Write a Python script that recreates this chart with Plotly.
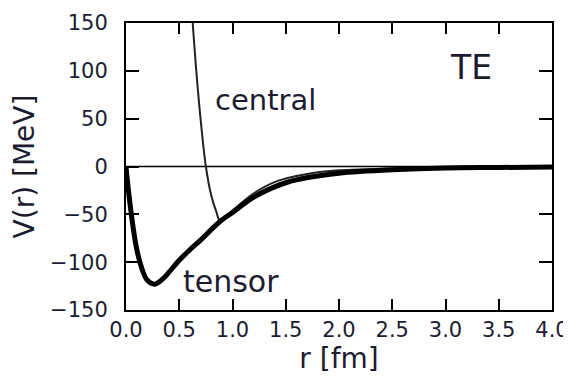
import plotly.graph_objects as go

# Tensor potential (thick curve)
r_tensor = [0.0, 0.02, 0.05, 0.1, 0.15, 0.2, 0.27, 0.35, 0.4, 0.5, 0.6, 0.7, 0.8, 0.9,
            1.0, 1.2, 1.4, 1.5, 1.6, 1.8, 2.0, 2.5, 3.0, 3.5, 4.0]
v_tensor = [0, -22, -50, -86, -107, -119, -123, -117, -111, -98, -87, -77, -66, -56,
            -48, -32, -21, -17, -14, -10, -7, -3.5, -1.5, -1, -0.5]

# Central potential (thin curve)
r_central = [0.62, 0.66, 0.70, 0.75, 0.80, 0.85, 0.88, 0.95, 1.0, 1.2, 1.4, 1.6, 1.8,
             2.0, 2.5, 3.0, 3.5, 4.0]
v_central = [160, 100, 50, 0, -30, -48, -56, -51, -46, -28, -16, -10, -6,
             -4, -2, -1, -0.5, 0]

x_ticks = [0.0, 0.5, 1.0, 1.5, 2.0, 2.5, 3.0, 3.5, 4.0]
x_ticklabels = ["0.0", "0.5", "1.0", "1.5", "2.0", "2.5", "3.0", "3.5", "4.0"]
y_ticks = [-150, -100, -50, 0, 50, 100, 150]

fig = go.Figure()
fig.add_trace(go.Scatter(x=[0, 4], y=[0, 0], mode="lines",
                         line=dict(color="black", width=1.5), showlegend=False))
fig.add_trace(go.Scatter(x=r_central, y=v_central, mode="lines",
                         line=dict(color="#222222", width=2, shape="spline"),
                         showlegend=False))
fig.add_trace(go.Scatter(x=r_tensor, y=v_tensor, mode="lines",
                         line=dict(color="black", width=5, shape="spline"),
                         showlegend=False))

font = dict(family="DejaVu Sans, Arial, sans-serif", color="#1c1c30")

fig.update_layout(
    width=571, height=376,
    margin=dict(l=118, r=27, t=15, b=74),
    paper_bgcolor="white", plot_bgcolor="white",
    font=font,
    xaxis=dict(range=[0, 4], tickvals=x_ticks, ticktext=x_ticklabels,
               ticks="inside", ticklen=11, tickwidth=1.5, tickcolor="black",
               showline=True, linecolor="black", linewidth=2, mirror="ticks",
               showgrid=False, zeroline=False, automargin=False,
               tickfont=dict(size=21, **font),
               title=dict(text="r [fm]", font=dict(size=28, **font), standoff=4)),
    yaxis=dict(range=[-150, 150], tickvals=y_ticks,
               ticks="inside", ticklen=13, tickwidth=1.5, tickcolor="black",
               showline=True, linecolor="black", linewidth=2, mirror="ticks",
               showgrid=False, zeroline=False, automargin=False,
               tickfont=dict(size=21, **font), ticklabelstandoff=12,
               title=dict(text="V(r) [MeV]", font=dict(size=28, **font), standoff=8)),
    annotations=[
        dict(x=3.24, y=104, text="TE", showarrow=False, xref="x", yref="y",
             font=dict(size=33, **font)),
        dict(x=1.31, y=69, text="central", showarrow=False, xref="x", yref="y",
             font=dict(size=29, **font)),
        dict(x=0.99, y=-120, text="tensor", showarrow=False, xref="x", yref="y",
             font=dict(size=30, **font)),
    ],
)

fig.write_html("out.html")
